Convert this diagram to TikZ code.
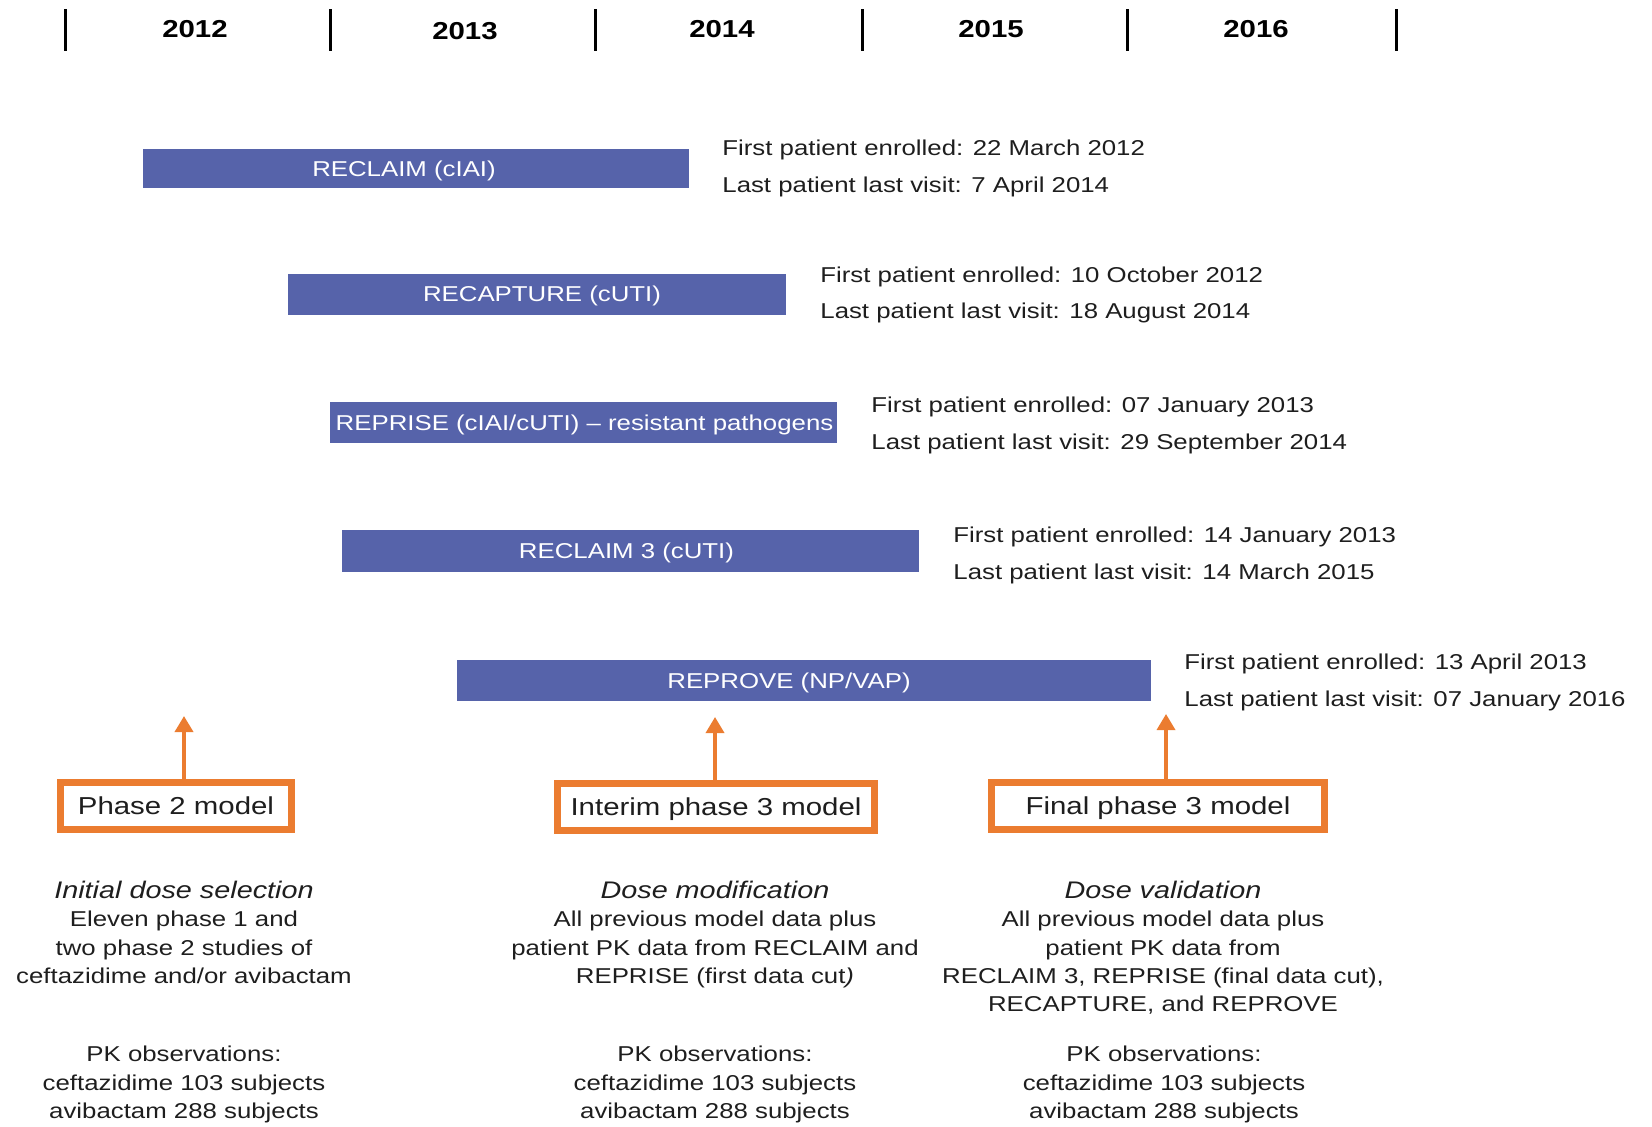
\documentclass[tikz,border=0pt]{standalone}
\usepackage{fontspec}
\setmainfont{Liberation Sans}[FakeStretch=1.2]
\usetikzlibrary{arrows.meta,calc}

\definecolor{barblue}{RGB}{86,99,170}
\definecolor{modelorange}{RGB}{235,124,48}
\definecolor{ink}{RGB}{30,30,30}

\tikzset{
  yearlbl/.style={font=\bfseries\fontsize{24.5}{28}\selectfont, text=black, inner sep=0pt},
  tick/.style={line width=3pt, black},
  studybar/.style={fill=barblue, draw=none, inner sep=0pt},
  barlbl/.style={text=white, inner sep=0pt,
    font=\fontsize{21.5}{26}\selectfont, text height=15.4pt, text depth=0pt},
  info/.style={font=\fontsize{21.5}{26}\selectfont, text=ink, inner sep=0pt,
    text height=15.4pt, text depth=0pt, anchor=west},
  modelbox/.style={draw=modelorange, line width=7pt, fill=white, text=ink,
    minimum height=47pt, inner sep=0pt,
    font=\fontsize{24.5}{28}\selectfont, text height=17.5pt, text depth=0pt},
  feed/.style={draw=modelorange, line width=3.5pt,
    -{Triangle[width=18pt,length=16pt]}},
  notes/.style={font=\fontsize{21.5}{28.3}\selectfont, text=ink, align=center,
    inner sep=0pt, anchor=north},
}
\newcommand{\stagehead}[1]{{\itshape\fontsize{24}{28.3}\selectfont #1}}

\begin{document}
\begin{tikzpicture}[x=1pt,y=-1pt]
\useasboundingbox (0,0) rectangle (1652,1127);

% year scale
\foreach \x in {65,330,595,862,1127,1396}
  \draw[tick] (\x,9) -- (\x,51);
\node[yearlbl] (y2012) at (195,29.5) {2012};
\node[yearlbl] (y2013) at (465,31.5) {2013};
\node[yearlbl] (y2014) at (722,29.5) {2014};
\node[yearlbl] (y2015) at (991,29.5) {2015};
\node[yearlbl] (y2016) at (1256,29.5) {2016};

% study durations
\node[studybar, minimum width=546pt, minimum height=39pt] (b1) at (416,168.8) {};
\node[studybar, minimum width=498pt, minimum height=41pt] (b2) at (537,294) {};
\node[studybar, minimum width=507pt, minimum height=41pt] (b3) at (583.5,422.5) {};
\node[studybar, minimum width=577pt, minimum height=42pt] (b4) at (630.5,551) {};
\node[studybar, minimum width=694pt, minimum height=41pt] (b5) at (804,680.5) {};

\node[barlbl] (b1t) at ($(b1)+(-12,0)$) {RECLAIM (cIAI)};
\node[barlbl] (b2t) at ($(b2)+(5,0)$) {RECAPTURE (cUTI)};
\node[barlbl] (b3t) at ($(b3)+(1,0)$) {REPRISE (cIAI/cUTI) – resistant pathogens};
\node[barlbl] (b4t) at ($(b4)+(-4,0)$) {RECLAIM 3 (cUTI)};
\node[barlbl] (b5t) at ($(b5)+(-15,0)$) {REPROVE (NP/VAP)};

% enrolment dates
\node[info] (b1f) at ($(b1.east)+(33,-21.5)$) {First patient enrolled: 22 March 2012};
\node[info] (b1l) at ($(b1.east)+(33,15.5)$) {Last patient last visit: 7 April 2014};
\node[info] (b2f) at ($(b2.east)+(34,-19.5)$) {First patient enrolled: 10 October 2012};
\node[info] (b2l) at ($(b2.east)+(34,17)$) {Last patient last visit: 18 August 2014};
\node[info] (b3f) at ($(b3.east)+(34,-17.5)$) {First patient enrolled: 07 January 2013};
\node[info] (b3l) at ($(b3.east)+(34,19.5)$) {Last patient last visit: 29 September 2014};
\node[info] (b4f) at ($(b4.east)+(34,-16)$) {First patient enrolled: 14 January 2013};
\node[info] (b4l) at ($(b4.east)+(34,21)$) {Last patient last visit: 14 March 2015};
\node[info] (b5f) at ($(b5.east)+(33,-19)$) {First patient enrolled: 13 April 2013};
\node[info] (b5l) at ($(b5.east)+(33,18)$) {Last patient last visit: 07 January 2016};

% model stages
\node[modelbox, minimum width=231pt] (m1) at (176,806) {Phase 2 model};
\node[modelbox, minimum width=317pt] (m2) at (716,806.5) {Interim phase 3 model};
\node[modelbox, minimum width=333pt] (m3) at (1158,806) {Final phase 3 model};

\coordinate (t1) at (184,716);
\coordinate (t2) at (715,717);
\coordinate (t3) at (1166,714);
\draw[feed] (m1.north -| t1) -- (t1);
\draw[feed] (m2.north -| t2) -- (t2);
\draw[feed] (m3.north -| t3) -- (t3);

% stage descriptions
\node[notes] (d1) at (184,881) {\stagehead{Initial dose selection}\\Eleven phase 1 and\\two phase 2 studies of\\ceftazidime and/or avibactam};
\node[notes] (d2) at (715,881) {\stagehead{Dose modification}\\All previous model data plus\\patient PK data from RECLAIM and\\REPRISE (first data cut\textit{)}};
\node[notes] (d3) at (1163,881) {\stagehead{Dose validation}\\All previous model data plus\\patient PK data from\\RECLAIM 3, REPRISE (final data cut),\\RECAPTURE, and REPROVE};

\node[notes] (k1) at (184,1046) {PK observations:\\ceftazidime 103 subjects\\avibactam 288 subjects};
\node[notes] (k2) at (715,1046) {PK observations:\\ceftazidime 103 subjects\\avibactam 288 subjects};
\node[notes] (k3) at (1164,1046) {PK observations:\\ceftazidime 103 subjects\\avibactam 288 subjects};
\end{tikzpicture}
\end{document}
